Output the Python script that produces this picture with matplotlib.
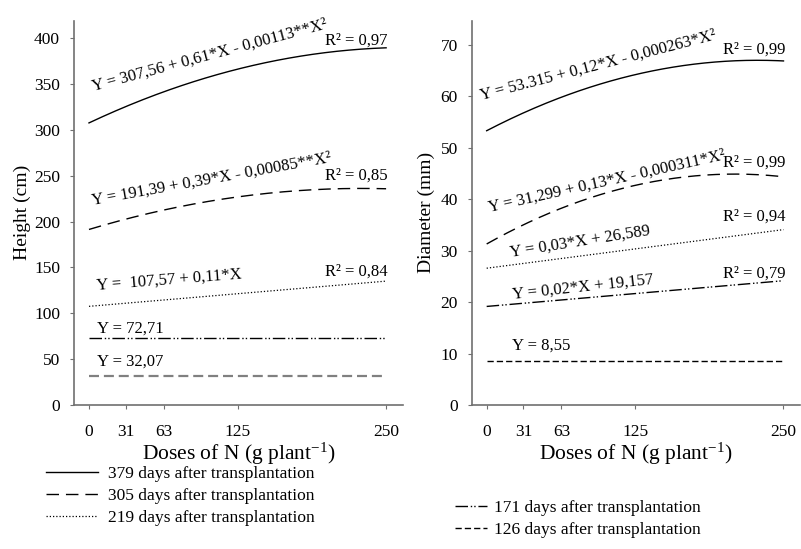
import matplotlib

matplotlib.use("Agg")
import matplotlib.pyplot as plt
import numpy as np

plt.rcParams["font.family"] = ["Liberation Serif", "DejaVu Serif"]
plt.rcParams["mathtext.fontset"] = "custom"
plt.rcParams["mathtext.rm"] = "Liberation Serif"
plt.rcParams["mathtext.it"] = "Liberation Serif:italic"

# N doses (g plant-1) and regression coefficients (b0, b1, b2)
doses = [0, 31, 63, 125, 250]
days = ["379", "305", "219", "171", "126"]

height_b0 = [307.56, 191.39, 107.57, 72.71, 32.07]
height_b1 = [0.61, 0.39, 0.11, 0.0, 0.0]
height_b2 = [-0.00113, -0.00085, 0.0, 0.0, 0.0]
height_eq = [
    "Y = 307,56 + 0,61*X - 0,00113**X²",
    "Y = 191,39 + 0,39*X - 0,00085**X²",
    "Y =  107,57 + 0,11*X",
    "Y = 72,71",
    "Y = 32,07",
]
height_r2 = ["R² = 0,97", "R² = 0,85", "R² = 0,84", None, None]

diam_b0 = [53.315, 31.299, 26.589, 19.157, 8.55]
diam_b1 = [0.12, 0.13, 0.03, 0.02, 0.0]
diam_b2 = [-0.000263, -0.000311, 0.0, 0.0, 0.0]
diam_eq = [
    "Y = 53.315 + 0,12*X - 0,000263*X²",
    "Y = 31,299 + 0,13*X - 0,000311*X²",
    "Y = 0,03*X + 26,589",
    "Y = 0,02*X + 19,157",
    "Y = 8,55",
]
diam_r2 = ["R² = 0,99", "R² = 0,99", "R² = 0,94", "R² = 0,79", None]

# line styles per evaluation date
STYLES = [
    dict(color="black", lw=1.0, ls="-"),
    dict(color="black", lw=1.0, ls=(0, (9, 5))),
    dict(color="black", lw=0.9, ls=(0, (1, 1.6))),
    dict(color="black", lw=1.0, ls=(0, (9, 2, 1, 1.5, 1, 2))),
    dict(color="black", lw=1.0, ls=(0, (4.5, 2.2))),
]
SPINE = "#707070"

# label placement (x, y, rotation) in data coords
height_eq_pos = [(3.4, 343, 15.0), (3.4, 218, 10.2), (6.7, 126, 4.5), (6.7, 78.5, 0), (6.7, 42.5, 0)]
height_r2_y = [393, 246, 140.6]
diam_eq_pos = [(-4.8, 59.3, 14.5), (2.0, 37.5, 12.6), (20.5, 28.8, 9.0), (22.0, 20.6, 6.1), (21.3, 10.7, 0)]
diam_r2_y = [68.3, 46.3, 35.8, 24.7]


def panel(ax, b0, b1, b2, eqs, r2s, eq_pos, r2_y, ylim, yticks, ylabel, gray_last):
    x = np.linspace(0, 250, 200)
    lines = []
    for i in range(5):
        y = b0[i] + b1[i] * x + b2[i] * x ** 2
        st = dict(STYLES[i])
        if i == 4 and gray_last:
            st.update(color="#808080", lw=1.6)
        (ln,) = ax.plot(x, y, **st)
        lines.append(ln)
    for i, (px, py, rot) in enumerate(eq_pos):
        ax.text(px, py, eqs[i], fontsize=12, rotation=rot, rotation_mode="anchor",
                ha="left", va="baseline")
    for i, ry in enumerate(r2_y):
        ax.text(251.5, ry, r2s[i], fontsize=12, ha="right", va="baseline")

    ax.set_xlim(-12.6, 264)
    ax.set_ylim(*ylim)
    ax.set_xticks(doses)
    ax.set_yticks(yticks)
    for side in ("top", "right"):
        ax.spines[side].set_visible(False)
    for side in ("left", "bottom"):
        ax.spines[side].set_color(SPINE)
        ax.spines[side].set_linewidth(1.2)
    ax.tick_params(axis="x", direction="out", length=3, color=SPINE, pad=11, labelsize=12.5)
    ax.tick_params(axis="y", direction="out", length=3, color=SPINE, pad=7, labelsize=12.5)
    ax.set_xlabel("Doses of N (g plant$^{-1}$)", fontsize=15.5, labelpad=0)
    ax.set_ylabel(ylabel, fontsize=14)
    return lines


fig = plt.figure(figsize=(8.01, 5.49), dpi=100)
ax1 = fig.add_axes([0.0924, 0.2623, 0.4104, 0.700])
ax2 = fig.add_axes([0.5889, 0.2623, 0.4100, 0.700])

lines = panel(ax1, height_b0, height_b1, height_b2, height_eq, height_r2,
              height_eq_pos, height_r2_y, (0, 419), range(0, 401, 50), "Height (cm)", True)
lines2 = panel(ax2, diam_b0, diam_b1, diam_b2, diam_eq, diam_r2,
               diam_eq_pos, diam_r2_y, (0, 74.7), range(0, 71, 10), "Diameter (mm)", False)
ax1.yaxis.set_label_coords(-0.131, 0.5)
ax2.yaxis.set_label_coords(-0.112, 0.5)

labels = [f"{d} days after transplantation" for d in days]
fig.legend(lines2[:3], labels[:3], loc="upper left", bbox_to_anchor=(0.0574, 0.151),
           frameon=False, fontsize=12.5, handlelength=3.0, handletextpad=0.6,
           labelspacing=0.33, borderpad=0, borderaxespad=0)
fig.legend(lines2[3:], labels[3:], loc="upper left", bbox_to_anchor=(0.568, 0.090),
           frameon=False, fontsize=12.5, handlelength=1.85, handletextpad=0.4,
           labelspacing=0.33, borderpad=0, borderaxespad=0)

fig.savefig("out.png", dpi=100, facecolor="white")
